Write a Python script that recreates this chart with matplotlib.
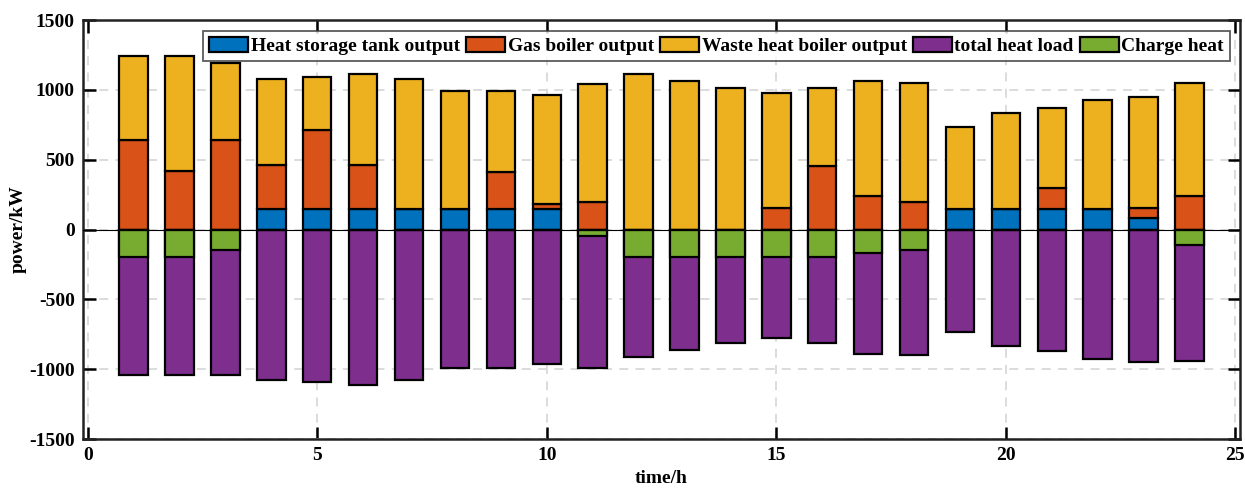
import numpy as np
import matplotlib
matplotlib.use("Agg")
import matplotlib.pyplot as plt

hours = np.arange(1, 25)

storage_out = [0, 0, 0, 150, 150, 150, 150, 150, 150, 150, 0, 0,
               0, 0, 0, 0, 0, 0, 150, 150, 150, 150, 80, 0]
gas_boiler = [640, 420, 640, 315, 560, 310, 0, 0, 260, 30, 200, 0,
              0, 0, 155, 455, 240, 200, 0, 0, 145, 0, 75, 240]
waste_boiler = [605, 825, 550, 610, 380, 655, 925, 845, 585, 780, 840, 1110,
                1065, 1010, 825, 555, 820, 850, 585, 685, 575, 780, 795, 810]
heat_load = [-1045, -1045, -1040, -1075, -1090, -1115, -1078, -995, -995, -960, -995, -910,
             -865, -810, -780, -810, -892, -900, -733, -833, -870, -930, -950, -940]
charge_heat = [-200, -200, -150, 0, 0, 0, 0, 0, 0, 0, -45, -200,
               -200, -200, -200, -200, -170, -150, 0, 0, 0, 0, 0, -110]

labels = ["Heat storage tank output", "Gas boiler output", "Waste heat boiler output",
          "total heat load", "Charge heat"]
colors = ["#0072BD", "#D95319", "#EDB120", "#7E2F8E", "#77AC30"]

plt.rcParams["font.family"] = ["Liberation Serif", "DejaVu Serif"]
plt.rcParams["font.weight"] = "bold"
plt.rcParams["axes.unicode_minus"] = False

fig = plt.figure(figsize=(12.45, 4.88), dpi=100)
ax = fig.add_axes([0.0667, 0.1004, 0.9293, 0.8586])

w = 0.62
ekw = dict(edgecolor="black", linewidth=1.6, width=w, zorder=3)
s = np.array(storage_out, float)
g = np.array(gas_boiler, float)
wv = np.array(waste_boiler, float)

b1 = ax.bar(hours, s, color=colors[0], **ekw)
b2 = ax.bar(hours, g, bottom=s, color=colors[1], **ekw)
b3 = ax.bar(hours, wv, bottom=s + g, color=colors[2], **ekw)
b4 = ax.bar(hours, heat_load, color=colors[3], **ekw)
b5 = ax.bar(hours, charge_heat, color=colors[4], **ekw)

ax.axhline(0, color="black", linewidth=0.8, zorder=4)

ax.set_xlim(-0.1, 25.1)
ax.set_ylim(-1500, 1500)
ax.set_xticks(np.arange(0, 26, 5))
ax.set_yticks(np.arange(-1500, 1501, 500))

ax.grid(True, color="#d9d9d9", linestyle=(0, (5, 4)), linewidth=1.3, zorder=0)
ax.set_axisbelow(True)

ax.tick_params(direction="in", length=9, width=1.8, labelsize=14,
               top=True, right=True, pad=6)
for lab in ax.get_xticklabels() + ax.get_yticklabels():
    lab.set_fontweight("bold")
for sp in ax.spines.values():
    sp.set_linewidth(1.8)
    sp.set_color("#222222")

ax.set_xlabel("time/h", fontsize=14, fontweight="bold", labelpad=4)
ax.set_ylabel("power/kW", fontsize=14, fontweight="bold", labelpad=2)

leg = ax.legend([b1, b2, b3, b4, b5], labels, ncol=5, loc="upper right",
                bbox_to_anchor=(0.9945, 0.982), frameon=True, fancybox=False,
                edgecolor="#333333", handlelength=2.0,
                handleheight=0.75, handletextpad=0.15, columnspacing=0.3,
                borderpad=0.3, borderaxespad=0.2,
                prop={"weight": "bold", "size": 14})
leg.get_frame().set_linewidth(1.3)
leg.set_zorder(10)

fig.savefig("out.png", dpi=100)
